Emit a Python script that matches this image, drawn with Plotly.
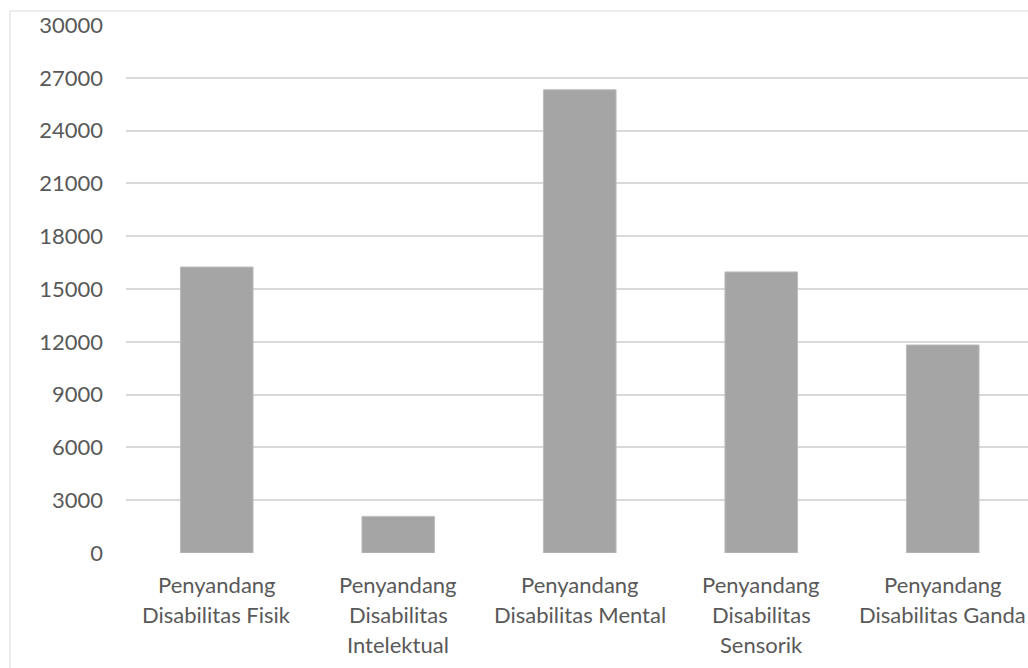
import plotly.graph_objects as go

categories = [
    "Penyandang<br>Disabilitas Fisik",
    "Penyandang<br>Disabilitas<br>Intelektual",
    "Penyandang<br>Disabilitas Mental",
    "Penyandang<br>Disabilitas<br>Sensorik",
    "Penyandang<br>Disabilitas Ganda",
]
values = [16250, 2080, 26320, 15970, 11820]
y_ticks = [0, 3000, 6000, 9000, 12000, 15000, 18000, 21000, 24000, 27000, 30000]

W, H = 1028, 668
ML, MR, MT, MB = 126, 0, 25, 115
plot_w = W - ML - MR
plot_h = H - MT - MB
cat_w = 181.5
FONT = "Lato, 'Open Sans', sans-serif"
TXT = "#595959"

fig = go.Figure(
    go.Bar(
        x=list(range(len(categories))),
        y=values,
        marker=dict(color="#a5a5a5", line=dict(color="#bdbdbd", width=1)),
        width=0.4,
    )
)

# category labels: one annotation per text line, placed on the category axis
annotations = []
first_offset, line_step = 31, 30
for i, label in enumerate(categories):
    for j, line in enumerate(label.split("<br>")):
        annotations.append(
            dict(
                x=i,
                xref="x",
                y=0,
                yref="paper",
                yanchor="middle",
                xanchor="center",
                yshift=-(first_offset + j * line_step),
                text=line,
                showarrow=False,
                font=dict(family=FONT, size=22, color=TXT),
            )
        )

fig.update_layout(
    width=W,
    height=H,
    margin=dict(l=ML, r=MR, t=MT, b=MB),
    paper_bgcolor="white",
    plot_bgcolor="white",
    showlegend=False,
    font=dict(family=FONT, color=TXT, size=22),
    xaxis=dict(
        range=[-0.5, -0.5 + plot_w / cat_w],
        tickmode="array",
        tickvals=list(range(len(categories))),
        showticklabels=False,
        showgrid=False,
        zeroline=False,
        showline=False,
        ticks="",
    ),
    yaxis=dict(
        range=[0, 30000],
        tickmode="array",
        tickvals=y_ticks,
        ticktext=[str(v) for v in y_ticks],
        showgrid=True,
        gridcolor="#d9d9d9",
        gridwidth=1.5,
        zeroline=False,
        showline=False,
        ticks="",
        ticklabelstandoff=22,
        tickfont=dict(size=22, color=TXT),
    ),
    annotations=annotations,
    shapes=[
        dict(
            type="rect",
            xref="paper",
            yref="paper",
            x0=(10 - ML) / plot_w,
            x1=(W + 20 - ML) / plot_w,
            y0=(H - MB - (H + 20)) / plot_h,
            y1=(H - MB - 11) / plot_h,
            line=dict(color="#d9d9d9", width=1),
            fillcolor="rgba(0,0,0,0)",
            layer="below",
        )
    ],
)

fig.write_html("out.html")
